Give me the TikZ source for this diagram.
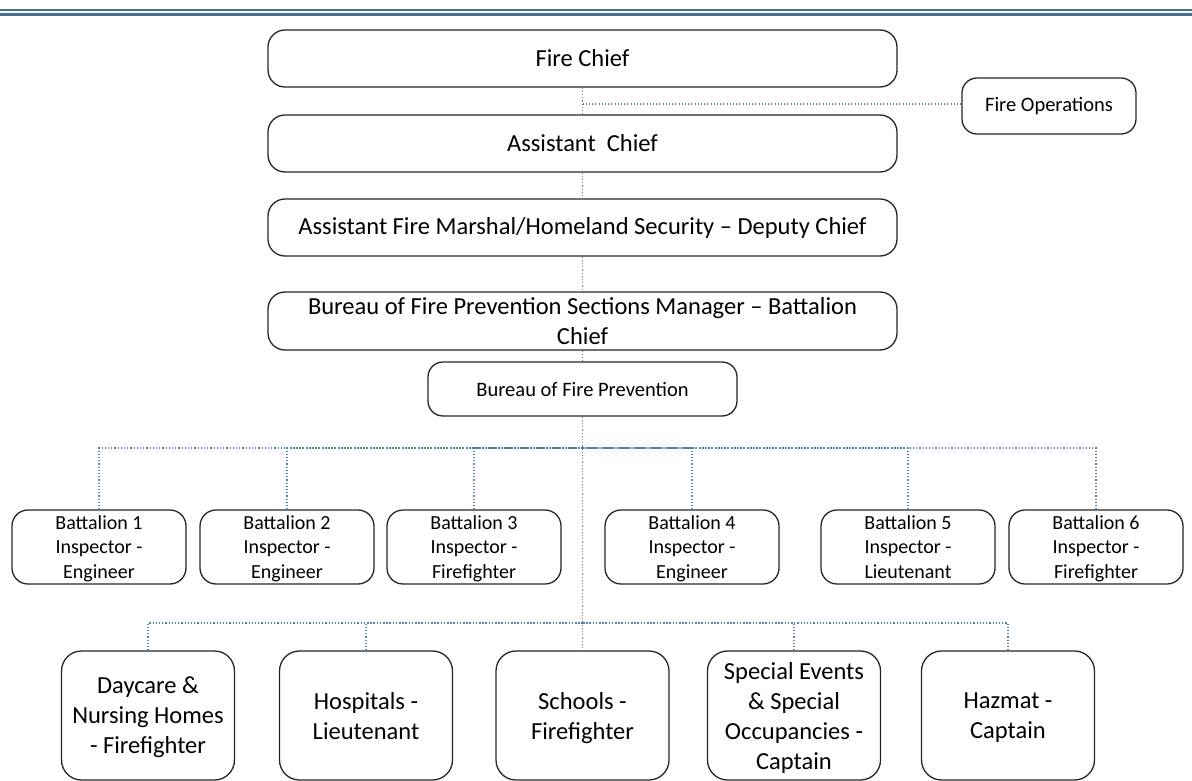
\documentclass[tikz,border=0pt]{standalone}
\usepackage{fontspec}
\setmainfont{Carlito}
\usepackage{tikz}
\usetikzlibrary{positioning}

\definecolor{RuleBlue}{RGB}{66,116,146}
\definecolor{DotBlue}{RGB}{84,128,172}

\tikzset{
  rank/.style={draw=black!85, line width=1.3pt, rounded corners=17pt, minimum width=629pt, minimum height=57pt,
    inner sep=0pt, align=center, font=\fontsize{24.5}{29.5}\selectfont},
  unit/.style={draw=black!85, line width=1.3pt, rounded corners=15pt, minimum height=55pt,
    inner sep=0pt, align=center, font=\fontsize{20.5}{24}\selectfont},
  battalion/.style={draw=black!85, line width=1.3pt, rounded corners=16pt, minimum width=174pt, minimum height=74pt,
    inner sep=0pt, align=center, font=\fontsize{20}{24.5}\selectfont, text depth=0pt},
  section/.style={draw=black!85, line width=1.3pt, rounded corners=20pt, minimum width=173pt, minimum height=129pt,
    inner sep=0pt, align=center, font=\fontsize{24.5}{30}\selectfont, text depth=0pt},
  link/.style={DotBlue, line width=1.2pt, dash pattern=on 1.1pt off 2.1pt}
}

\begin{document}
\begin{tikzpicture}[x=1pt, y=-1pt]
  \useasboundingbox (0,0) rectangle (1192,781);
  % heading rule
  \draw[RuleBlue, line width=1.5pt] (0,10) -- (1192,10);
  \draw[RuleBlue, line width=2.6pt] (0,14.5) -- (1192,14.5);

  % chain of command
  \node[rank] (chief) at (582.5,58.5) {Fire Chief};
  \node[rank] (asst) at (582.5,143.5) {Assistant\ \ Chief};
  \node[unit, minimum width=174pt, minimum height=56pt] (ops) at (1049,106) {Fire Operations};
  \node[rank] (marshal) at (582.5,227.5) {Assistant Fire Marshal/Homeland Security – Deputy Chief};
  \node[rank, minimum height=58pt] (manager) at (582.5,321) {Bureau of Fire Prevention Sections Manager – Battalion\\Chief};
  \node[unit, minimum width=309pt, minimum height=54pt] (bureau) at (582.5,389) {Bureau of Fire Prevention};

  \coordinate (opsjoin) at (582.5,104);
  \draw[link] (chief.south) -- (asst.north);
  \draw[link] (opsjoin) -- (ops.west |- opsjoin);
  \draw[link] (asst.south) -- (marshal.north);
  \draw[link] (marshal.south) -- (manager.north);
  \draw[link] (manager.south) -- (bureau.north);

  % battalion inspectors
  \node[battalion] (bat1) at (99,547) {Battalion 1\\Inspector -\\Engineer};
  \node[battalion] (bat2) at (287,547) {Battalion 2\\Inspector -\\Engineer};
  \node[battalion] (bat3) at (474,547) {Battalion 3\\Inspector -\\Firefighter};
  \node[battalion] (bat4) at (692,547) {Battalion 4\\Inspector -\\Engineer};
  \node[battalion] (bat5) at (908,547) {Battalion 5\\Inspector -\\Lieutenant};
  \node[battalion] (bat6) at (1096,547) {Battalion 6\\Inspector -\\Firefighter};

  % occupancy sections
  \node[section] (daycare) at (148,715.5) {Daycare \&\\Nursing Homes\\- Firefighter};
  \node[section] (hospitals) at (366,715.5) {Hospitals -\\Lieutenant};
  \node[section] (schools) at (582.5,715.5) {Schools -\\Firefighter};
  \node[section] (events) at (794,715.5) {Special Events\\\& Special\\Occupancies -\\Captain};
  \node[section] (hazmat) at (1008,715.5) {Hazmat -\\Captain};

  \coordinate (busA) at (582.5,448);
  \coordinate (busB) at (582.5,623);
  \draw[link] (bureau.south) -- (schools.north);
  \draw[link] (bat1.north) |- (busA);
  \draw[link] (bat2.north) |- (busA);
  \draw[link] (bat3.north) |- (busA);
  \draw[link] (bat4.north) |- (busA);
  \draw[link] (bat5.north) |- (busA);
  \draw[link] (bat6.north) |- (busA);
  \draw[link] (daycare.north) |- (busB);
  \draw[link] (hospitals.north) |- (busB);
  \draw[link] (events.north) |- (busB);
  \draw[link] (hazmat.north) |- (busB);
\end{tikzpicture}
\end{document}
